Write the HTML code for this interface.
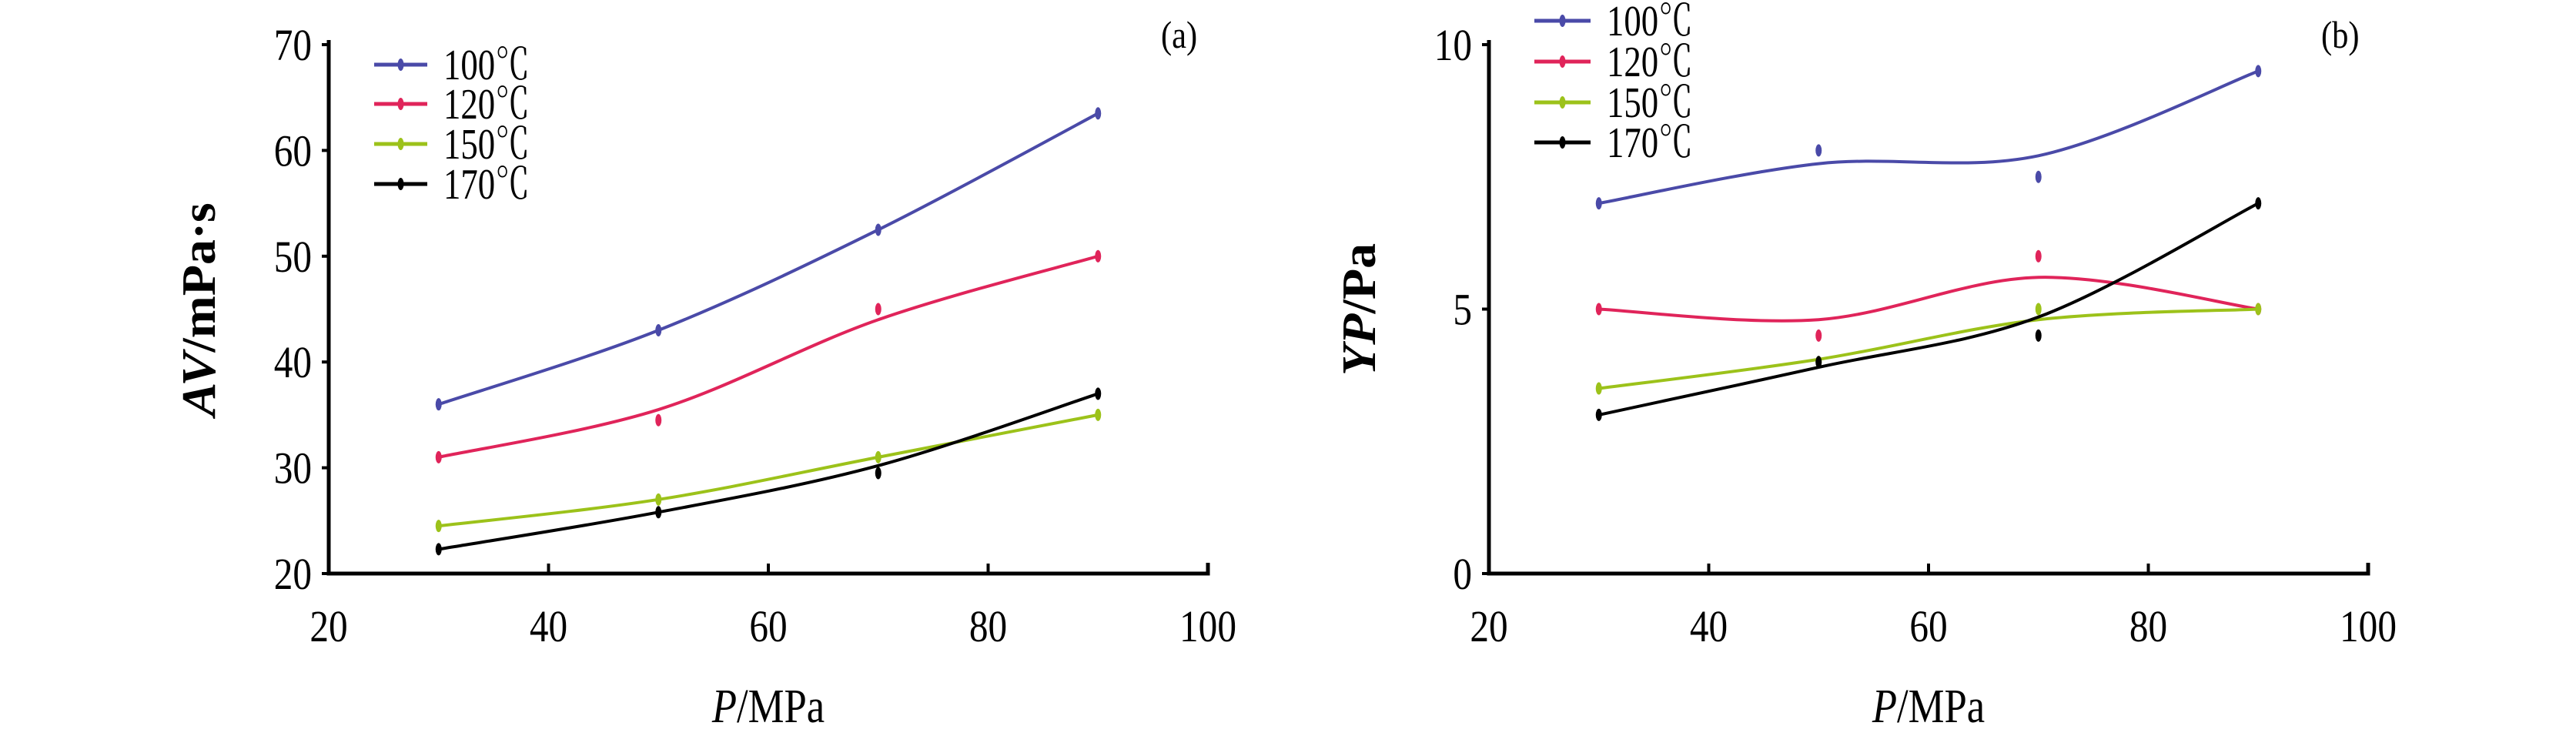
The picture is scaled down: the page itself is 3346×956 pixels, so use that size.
<!DOCTYPE html>
<html><head><meta charset="utf-8"><style>
html,body{margin:0;padding:0;background:#fff;}
svg{display:block;}
text{font-family:"Liberation Serif","Noto Serif CJK SC",serif;fill:#000;}
</style></head><body>
<svg id="s" width="3346" height="956" xmlns="http://www.w3.org/2000/svg"></svg>
<script>
const S=document.getElementById('s');let h='';
const cols=['#4a4aa8','#e0245a','#9cc21a','#000'];
const names=['100℃','120℃','150℃','170℃'];
function T(x,y,fs,anc,c,sx,extra){return `<text transform="translate(${x},${y}) scale(${sx||0.85},1)" font-size="${fs}" text-anchor="${anc}" ${extra||''}>${c}</text>`;}
function panel(o){
 const X=v=>o.x0+(v-20)/80*(o.x1-o.x0);
 const Y=v=>o.yb+(v-o.ymin)/(o.ymax-o.ymin)*(o.yt-o.yb);
 h+=`<path d="M${o.x0} ${o.yt-6}V${o.yb}H${o.x1}V${o.yb-14}" stroke="#000" stroke-width="5" fill="none"/>`;
 for(let v=40;v<100;v+=20)h+=`<line x1="${X(v)}" y1="${o.yb}" x2="${X(v)}" y2="${o.yb-13}" stroke="#000" stroke-width="4"/>`;
 for(let v=20;v<=100;v+=20)h+=T(X(v),o.yb+88,58,'middle',v);
 o.yt_.forEach(v=>{const y=Y(v);h+=`<line x1="${o.x0-9}" y1="${y}" x2="${o.x0}" y2="${y}" stroke="#000" stroke-width="4"/>`+T(o.x0-22,y+20,58,'end',v);});
 h+=T((o.x0+o.x1)/2,938,62,'middle',`<tspan font-style="italic">P</tspan>/MPa`);
 h+=`<text transform="translate(${o.x0-148},402) rotate(-90) scale(1,0.95)" font-size="66" font-weight="bold" text-anchor="middle"><tspan font-style="italic">${o.yl}</tspan>${o.yu}</text>`;
 h+=T(o.lx,62,50,'start',o.lab);
 const px=[30,50,70,90];
 o.curves.forEach((c,i)=>{
  const P=c.map((v,k)=>[X(px[k]),Y(v)]);
  let d=`M${P[0][0]} ${P[0][1]}`;
  for(let k=0;k<3;k++){const p0=P[Math.max(k-1,0)],p1=P[k],p2=P[k+1],p3=P[Math.min(k+2,3)];
   d+=`C${p1[0]+(p2[0]-p0[0])/6} ${p1[1]+(p2[1]-p0[1])/6} ${p2[0]-(p3[0]-p1[0])/6} ${p2[1]-(p3[1]-p1[1])/6} ${p2[0]} ${p2[1]}`;}
  h+=`<path d="${d}" stroke="${cols[i]}" stroke-width="4" fill="none"/>`;
  o.pts[i].forEach((v,k)=>{h+=`<ellipse cx="${X(px[k])}" cy="${Y(v)}" rx="4" ry="8" fill="${cols[i]}"/>`;});
  const ly=o.ly[i];
  h+=`<line x1="${o.lx1}" y1="${ly}" x2="${o.lx2}" y2="${ly}" stroke="${cols[i]}" stroke-width="5"/><ellipse cx="${(o.lx1+o.lx2)/2}" cy="${ly}" rx="4" ry="8" fill="${cols[i]}"/>`;
  h+=T(o.lx2+21,ly+19,56,'start',names[i],0.8);
 });
}
panel({x0:427,x1:1569,yt:58,yb:745,ymin:20,ymax:70,yt_:[20,30,40,50,60,70],yl:'AV',yu:'/mPa·s',lab:'(a)',lx:1508,
 curves:[[36,43,52.5,63.5],[31,35.5,44,50],[24.5,27,31,35],[22.3,25.8,30.2,37]],
 pts:[[36,43,52.5,63.5],[31,34.5,45,50],[24.5,27,31,35],[22.3,25.8,29.5,37]],
 lx1:486,lx2:555,ly:[84,135,187,239]});
panel({x0:1934,x1:3076,yt:58,yb:745,ymin:0,ymax:10,yt_:[0,5,10],yl:'YP',yu:'/Pa',lab:'(b)',lx:3015,
 curves:[[7,7.75,7.9,9.5],[5,4.8,5.6,5],[3.5,4.05,4.8,5],[3,3.9,4.85,7]],
 pts:[[7,8,7.5,9.5],[5,4.5,6,5],[3.5,4,5,5],[3,4,4.5,7]],
 lx1:1993,lx2:2066,ly:[27,80,133,185]});
S.innerHTML=h;
</script>
</body></html>
